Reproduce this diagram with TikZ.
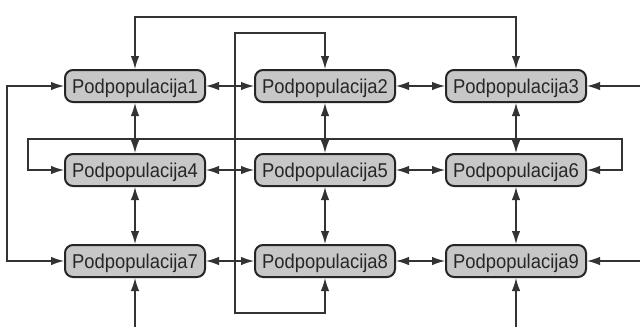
\documentclass[tikz,border=0pt]{standalone}
\usepackage{fontspec}
\setmainfont{Liberation Sans}[FakeStretch=0.92]
\usetikzlibrary{arrows.meta}
\begin{document}
\begin{tikzpicture}[x=1pt,y=-1pt,>={Latex[length=13pt,width=8.5pt]},
    pop/.style={draw=black!85,line width=2pt,fill=black!22,rounded corners=8pt,
      minimum width=140pt,minimum height=32pt,inner sep=0pt,
      text height=18.6pt,text depth=4.2pt,
      font=\fontsize{20}{24}\selectfont,text=black!85},
    link/.style={draw=black!80,line width=1.3pt}]
  \useasboundingbox[fill=white] (0,0) rectangle (640,327);
  \foreach \n/\x/\y in {1/135/86,2/325/86,3/516/86,4/135/170,5/325/170,6/516/170,7/135/261,8/325/261,9/516/261}
    \node[pop] (p\n) at (\x,\y) {Podpopulacija\n};
  % neighbours
  \foreach \a/\b in {1/2,2/3,4/5,5/6,7/8,8/9,1/4,4/7,2/5,5/8,3/6,6/9}
    \draw[link,<->] (p\a) -- (p\b);
  % wrap-around links
  \coordinate (t1) at (135,17);
  \coordinate (a) at (235,33);
  \coordinate (b) at (235,313);
  \coordinate (c) at (28,139);
  \coordinate (d) at (622,139);
  \coordinate (e) at (7,261);
  \coordinate (r3) at (640,86);
  \coordinate (r9) at (640,261);
  \coordinate (b7) at (135,327);
  \coordinate (b9) at (516,327);
  \draw[link,<->] (p1) -- (t1) -| (p3);
  \draw[link,<->] (p2) |- (a) -- (b) -| (p8);
  \draw[link,<->] (p4) -| (c) -- (d) |- (p6);
  \draw[link,<->] (p1) -| (e) -- (p7);
  \draw[link,->] (r3) -- (p3);
  \draw[link,->] (r9) -- (p9);
  \draw[link,->] (b7) -- (p7);
  \draw[link,->] (b9) -- (p9);
\end{tikzpicture}
\end{document}
